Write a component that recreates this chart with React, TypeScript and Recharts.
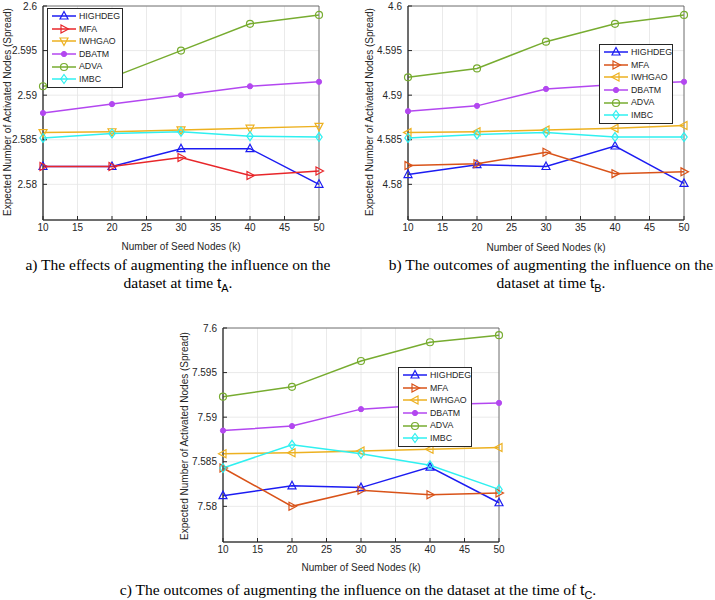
import React from "react";
import {
  LineChart,
  Line,
  XAxis,
  YAxis,
  CartesianGrid,
  Legend,
  ReferenceArea,
} from "recharts";

// k values on the x axis
const seedNodes = [10, 20, 30, 40, 50];
const xTicks = [10, 15, 20, 25, 30, 35, 40, 45, 50];

// Panel a (time tA)
const highdegA = [2.582, 2.582, 2.584, 2.584, 2.58];
const mfaA = [2.582, 2.582, 2.583, 2.581, 2.5815];
const iwhgaoA = [2.5858, 2.5859, 2.5861, 2.5863, 2.5865];
const dbatmA = [2.588, 2.589, 2.59, 2.591, 2.5915];
const advaA = [2.591, 2.592, 2.595, 2.598, 2.599];
const imbcA = [2.5852, 2.5857, 2.5859, 2.5854, 2.5853];
const yTicksA = [2.58, 2.585, 2.59, 2.595, 2.6];

// Panel b (time tB)
const highdegB = [4.5811, 4.5822, 4.582, 4.5843, 4.5801];
const mfaB = [4.5821, 4.5823, 4.5836, 4.5812, 4.5814];
const iwhgaoB = [4.5858, 4.5859, 4.5861, 4.5863, 4.5866];
const dbatmB = [4.5882, 4.5888, 4.5907, 4.5912, 4.5915];
const advaB = [4.592, 4.593, 4.596, 4.598, 4.599];
const imbcB = [4.5852, 4.5856, 4.5858, 4.5853, 4.5853];
const yTicksB = [4.58, 4.585, 4.59, 4.595, 4.6];

// Panel c (time tC)
const highdegC = [7.5812, 7.5823, 7.5821, 7.5844, 7.5804];
const mfaC = [7.5843, 7.58, 7.5818, 7.5813, 7.5815];
const iwhgaoC = [7.5859, 7.586, 7.5862, 7.5864, 7.5866];
const dbatmC = [7.5885, 7.589, 7.5909, 7.5914, 7.5916];
const advaC = [7.5923, 7.5934, 7.5963, 7.5984, 7.5992];
const imbcC = [7.5843, 7.5869, 7.5859, 7.5846, 7.5819];
const yTicksC = [7.58, 7.585, 7.59, 7.595, 7.6];

const seriesNames = ["HIGHDEG", "MFA", "IWHGAO", "DBATM", "ADVA", "IMBC"];

type Shape = "up" | "right" | "down" | "left" | "dot" | "circle" | "diamond";
type SeriesStyle = { name: string; color: string; shape: Shape };

const BLUE = "#1c1cf2";
const RED = "#e8262a";
const ORANGE = "#d95319";
const YELLOW = "#edb120";
const PURPLE = "#b347f0";
const GREEN = "#77ac30";
const CYAN = "#2ff0f0";

const stylesA: SeriesStyle[] = [
  { name: "HIGHDEG", color: BLUE, shape: "up" },
  { name: "MFA", color: RED, shape: "right" },
  { name: "IWHGAO", color: YELLOW, shape: "down" },
  { name: "DBATM", color: PURPLE, shape: "dot" },
  { name: "ADVA", color: GREEN, shape: "circle" },
  { name: "IMBC", color: CYAN, shape: "diamond" },
];

const stylesBC: SeriesStyle[] = [
  { name: "HIGHDEG", color: BLUE, shape: "up" },
  { name: "MFA", color: ORANGE, shape: "right" },
  { name: "IWHGAO", color: YELLOW, shape: "left" },
  { name: "DBATM", color: PURPLE, shape: "dot" },
  { name: "ADVA", color: GREEN, shape: "circle" },
  { name: "IMBC", color: CYAN, shape: "diamond" },
];

const AXIS = "#262626";
const SANS = "'Liberation Sans', Arial, sans-serif";
const SERIF = "'Liberation Serif', 'Times New Roman', serif";

function buildRows(columns: number[][]) {
  return seedNodes.map((k, i) => {
    const row: Record<string, number> = { k };
    seriesNames.forEach((name, j) => {
      row[name] = columns[j][i];
    });
    return row;
  });
}

const rowsA = buildRows([highdegA, mfaA, iwhgaoA, dbatmA, advaA, imbcA]);
const rowsB = buildRows([highdegB, mfaB, iwhgaoB, dbatmB, advaB, imbcB]);
const rowsC = buildRows([highdegC, mfaC, iwhgaoC, dbatmC, advaC, imbcC]);

function Marker({ shape, cx, cy, color }: { shape: Shape; cx: number; cy: number; color: string }) {
  const common = { fill: "none", stroke: color, strokeWidth: 1.2 };
  switch (shape) {
    case "up":
      return <polygon {...common} points={`${cx},${cy - 4.5} ${cx + 4},${cy + 3} ${cx - 4},${cy + 3}`} />;
    case "down":
      return <polygon {...common} points={`${cx},${cy + 4.5} ${cx + 4},${cy - 3} ${cx - 4},${cy - 3}`} />;
    case "right":
      return <polygon {...common} points={`${cx + 4.5},${cy} ${cx - 3},${cy - 4} ${cx - 3},${cy + 4}`} />;
    case "left":
      return <polygon {...common} points={`${cx - 4.5},${cy} ${cx + 3},${cy - 4} ${cx + 3},${cy + 4}`} />;
    case "circle":
      return <circle {...common} cx={cx} cy={cy} r={3.5} />;
    case "diamond":
      return <polygon {...common} points={`${cx},${cy - 4.5} ${cx + 3.2},${cy} ${cx},${cy + 4.5} ${cx - 3.2},${cy}`} />;
    default:
      return <circle cx={cx} cy={cy} r={2.6} fill={color} stroke={color} />;
  }
}

const makeDot = (shape: Shape, color: string) => (props: any) => {
  const { cx, cy, index } = props;
  return <Marker key={`${shape}-${index}`} shape={shape} cx={cx} cy={cy} color={color} />;
};

function LegendBox({ styles }: { styles: SeriesStyle[] }) {
  return (
    <div
      style={{
        border: `1px solid ${AXIS}`,
        background: "#fff",
        padding: "1px 3px",
        fontFamily: SANS,
        fontSize: 8.8,
        color: AXIS,
        lineHeight: "12.6px",
      }}
    >
      {styles.map((s) => (
        <div key={s.name} style={{ display: "flex", alignItems: "center", height: 12.6 }}>
          <svg width={26} height={12} style={{ flex: "none" }}>
            <line x1={1} x2={25} y1={6} y2={6} stroke={s.color} strokeWidth={1.5} />
            <Marker shape={s.shape} cx={13} cy={6} color={s.color} />
          </svg>
          <span style={{ marginLeft: 2, whiteSpace: "nowrap" }}>{s.name}</span>
        </div>
      ))}
    </div>
  );
}

const fmt = (v: number) => String(+v.toFixed(3));

function Panel({
  rows,
  styles,
  yTicks,
  yMin,
  legendLeft,
  legendTop,
  legendWidth,
}: {
  rows: Record<string, number>[];
  styles: SeriesStyle[];
  yTicks: number[];
  yMin: number;
  legendLeft: number;
  legendTop: number;
  legendWidth: number;
}) {
  const yMax = yTicks[yTicks.length - 1];
  return (
    <LineChart width={330} height={260} data={rows} margin={{ top: 6, right: 11, left: 0, bottom: 0 }}>
      <CartesianGrid stroke="#e4e4e4" strokeWidth={0.8} />
      <XAxis
        dataKey="k"
        type="number"
        domain={[10, 50]}
        ticks={xTicks}
        height={40}
        stroke={AXIS}
        tickSize={-4}
        tickMargin={8}
        tick={{ fill: AXIS, fontSize: 10, fontFamily: SANS }}
      />
      <YAxis
        type="number"
        domain={[yMin, yMax]}
        ticks={yTicks}
        allowDataOverflow
        width={43}
        stroke={AXIS}
        tickSize={-4}
        tickMargin={10}
        tickFormatter={fmt}
        tick={{ fill: AXIS, fontSize: 10, fontFamily: SANS }}
      />
      <ReferenceArea
        x1={10}
        x2={50}
        y1={yMin}
        y2={yMax}
        fill="none"
        stroke="#555"
        strokeWidth={0.8}
        fillOpacity={0}
      />
      <Legend
        layout="horizontal"
        align="center"
        verticalAlign="middle"
        wrapperStyle={{ left: legendLeft, top: legendTop, width: legendWidth, height: "auto" }}
        content={() => <LegendBox styles={styles} />}
      />
      {styles.map((s) => (
        <Line
          key={s.name}
          type="linear"
          dataKey={s.name}
          stroke={s.color}
          strokeWidth={1.5}
          dot={makeDot(s.shape, s.color)}
          activeDot={false}
          isAnimationActive={false}
        />
      ))}
    </LineChart>
  );
}

const yTitle = "Expected Number of Activated Nodes (Spread)";
const xTitle = "Number of Seed Nodes (k)";

function YTitle({ cx, cy }: { cx: number; cy: number }) {
  return (
    <div
      style={{
        position: "absolute",
        left: cx - 120,
        top: cy - 7,
        width: 240,
        height: 14,
        lineHeight: "14px",
        textAlign: "center",
        transform: "rotate(-90deg)",
        fontFamily: SANS,
        fontSize: 10,
        color: AXIS,
        whiteSpace: "nowrap",
      }}
    >
      {yTitle}
    </div>
  );
}

function XTitle({ cx, cy }: { cx: number; cy: number }) {
  return (
    <div
      style={{
        position: "absolute",
        left: cx - 100,
        top: cy - 7,
        width: 200,
        lineHeight: "14px",
        textAlign: "center",
        fontFamily: SANS,
        fontSize: 10,
        color: AXIS,
      }}
    >
      {xTitle}
    </div>
  );
}

function T({ sub }: { sub: string }) {
  return (
    <span style={{ fontFamily: SANS }}>
      t<sub style={{ fontSize: "0.7em" }}>{sub}</sub>
    </span>
  );
}

const captionStyle: React.CSSProperties = {
  position: "absolute",
  textAlign: "center",
  fontFamily: SERIF,
  fontSize: 15.5,
  lineHeight: "18px",
  color: "#000",
  whiteSpace: "nowrap",
};

export default function App() {
  return (
    <div
      style={{
        position: "absolute",
        left: 0,
        top: 0,
        width: 715,
        height: 600,
        overflow: "hidden",
        background: "#fff",
      }}
    >
      <div style={{ position: "absolute", left: 0, top: 0 }}>
        <Panel rows={rowsA} styles={stylesA} yTicks={yTicksA} yMin={2.576} legendLeft={47} legendTop={8} legendWidth={76} />
      </div>
      <div style={{ position: "absolute", left: 365, top: 0 }}>
        <Panel rows={rowsB} styles={stylesBC} yTicks={yTicksB} yMin={4.576} legendLeft={234} legendTop={44} legendWidth={74} />
      </div>
      <div style={{ position: "absolute", left: 180, top: 322 }}>
        <Panel rows={rowsC} styles={stylesBC} yTicks={yTicksC} yMin={7.576} legendLeft={218} legendTop={45} legendWidth={74} />
      </div>

      <YTitle cx={8} cy={112} />
      <YTitle cx={370} cy={112} />
      <YTitle cx={185} cy={436} />
      <XTitle cx={181} cy={247} />
      <XTitle cx={546} cy={248} />
      <XTitle cx={361} cy={568} />

      <div style={{ ...captionStyle, left: 0, top: 256, width: 356 }}>
        a) The effects of augmenting the influence on the
        <br />
        dataset at time <T sub="A" />.
      </div>
      <div style={{ ...captionStyle, left: 381, top: 256, width: 340 }}>
        b) The outcomes of augmenting the influence on the
        <br />
        dataset at time <T sub="B" />.
      </div>
      <div style={{ ...captionStyle, left: 58, top: 581, width: 600 }}>
        c) The outcomes of augmenting the influence on the dataset at the time of <T sub="C" />.
      </div>
    </div>
  );
}
